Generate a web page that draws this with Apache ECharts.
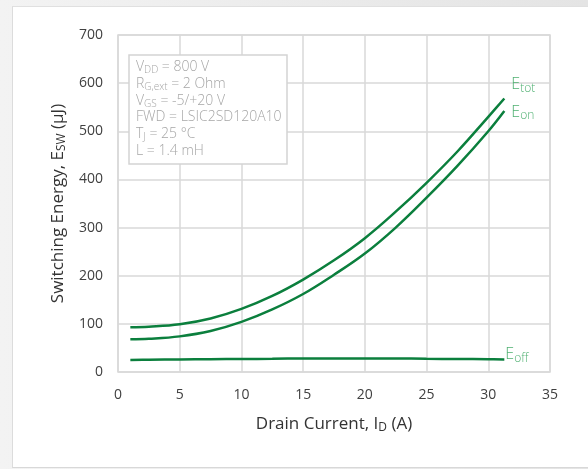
<!DOCTYPE html>
<html>
<head>
<meta charset="utf-8">
<script src="https://cdn.jsdelivr.net/npm/echarts@6/dist/echarts.min.js"></script>
<style>
html,body{margin:0;padding:0;background:#fff;}
#frame{position:absolute;left:0;top:0;width:588px;height:469px;background:linear-gradient(to right,#f3f3f3,#e4e4e4);}
#inner{position:absolute;left:12px;top:6px;width:576px;height:460px;background:#fff;border-left:1px solid #dcdcdc;border-top:1px solid #e0e0e0;border-bottom:1px solid #d8d8d8;}
#chart{position:absolute;left:0;top:0;width:588px;height:469px;}
</style>
</head>
<body>
<div id="frame"></div>
<div id="inner"></div>
<div id="chart"></div>
<script>
const current = [1, 2.5, 5, 7.5, 10, 12.5, 15, 17.5, 20, 22.5, 25, 27.5, 30, 31.3];
const eTot = [93, 94, 99, 111, 131, 158, 192, 232, 278, 333, 393, 458, 530, 568];
const eOn  = [68, 69, 74, 85, 104, 130, 162, 202, 246, 300, 362, 428, 500, 542];
const eOff = [25, 25.5, 26, 26.5, 27, 27.5, 28, 28, 28, 28, 27.5, 27, 26.5, 26];
const xTicks = [0, 35, 5];
const yTicks = [0, 700, 100];
const conditions = [
  '{t|V}{s|DD}{t| = 800 V}',
  '{t|R}{s|G,ext}{t| = 2 Ohm}',
  '{t|V}{s|GS}{t| = -5/+20 V}',
  '{t|FWD = LSIC2SD120A10}',
  '{t|T}{s|J}{t| = 25 °C}',
  '{t|L = 1.4 mH}'
];

const green = '#0b7f3d';
const labelGreen = '#4fb071';
const font = 'Open Sans, Noto Sans, sans-serif';

function pairs(ys){ return current.map((x,i)=>[x, ys[i]]); }

const chart = echarts.init(document.getElementById('chart'), null, {renderer:'canvas'});
const endLbl = (main, sub, off) => ({
  show: true,
  formatter: '{m|' + main + '}{s|' + sub + '}',
  offset: off,
  distance: 0,
  rich: {
    m: {fontSize: 16, color: labelGreen, fontFamily: font, fontWeight: 300},
    s: {fontSize: 12, color: labelGreen, fontFamily: font, fontWeight: 300, padding: [8,0,0,0]}
  }
});
chart.setOption({
  backgroundColor: 'transparent',
  animation: false,
  grid: {left: 118, right: 38, top: 35, bottom: 97, show: true, borderColor: '#d9d9d9', borderWidth: 1.5},
  title: {
    text: conditions.join('\n'),
    left: 129, top: 55,
    backgroundColor: '#fff',
    borderColor: '#d4d4d4', borderWidth: 1.5,
    padding: [4, 6, 5, 7],
    textStyle: {
      lineHeight: 16.7,
      rich: {
        t: {fontSize: 14, color: '#a6a6a6', fontFamily: font, fontWeight: 300, lineHeight: 16.7},
        s: {fontSize: 10, color: '#a6a6a6', fontFamily: font, fontWeight: 300, lineHeight: 16.7, padding: [6,0,0,0]}
      }
    }
  },
  xAxis: {
    type: 'value', min: xTicks[0], max: xTicks[1], interval: xTicks[2],
    axisLine: {show: false}, axisTick: {show: false},
    splitLine: {lineStyle: {color: '#d9d9d9', width: 1.5}},
    axisLabel: {fontSize: 14, color: '#404040', fontFamily: font, margin: 16},
    name: '{m|Drain Current, I}{s|D}{m| (A)}',
    nameLocation: 'middle', nameGap: 42,
    nameTextStyle: {rich: {
      m: {fontSize: 17, color: '#333', fontFamily: font},
      s: {fontSize: 12, color: '#333', fontFamily: font, padding: [8,0,0,0]}
    }}
  },
  yAxis: {
    type: 'value', min: yTicks[0], max: yTicks[1], interval: yTicks[2],
    axisLine: {show: false}, axisTick: {show: false},
    splitLine: {lineStyle: {color: '#d9d9d9', width: 1.5}},
    axisLabel: {fontSize: 14, color: '#404040', fontFamily: font, margin: 15},
    name: '{m|Switching Energy, E}{s|SW}{m| (µJ)}',
    nameLocation: 'middle', nameGap: 50,
    nameTextStyle: {rich: {
      m: {fontSize: 17, color: '#333', fontFamily: font},
      s: {fontSize: 12, color: '#333', fontFamily: font, padding: [8,0,0,0]}
    }}
  },
  series: [
    {name: 'Etot', type: 'line', data: pairs(eTot), smooth: 0.4, showSymbol: false,
     lineStyle: {color: green, width: 2.5}, endLabel: endLbl('E', 'tot', [7, -14])},
    {name: 'Eon', type: 'line', data: pairs(eOn), smooth: 0.4, showSymbol: false,
     lineStyle: {color: green, width: 2.5}, endLabel: endLbl('E', 'on', [7, 1])},
    {name: 'Eoff', type: 'line', data: pairs(eOff), smooth: 0.4, showSymbol: false,
     lineStyle: {color: green, width: 2.5}, endLabel: endLbl('E', 'off', [1, -5])}
  ]
});
</script>
</body>
</html>
